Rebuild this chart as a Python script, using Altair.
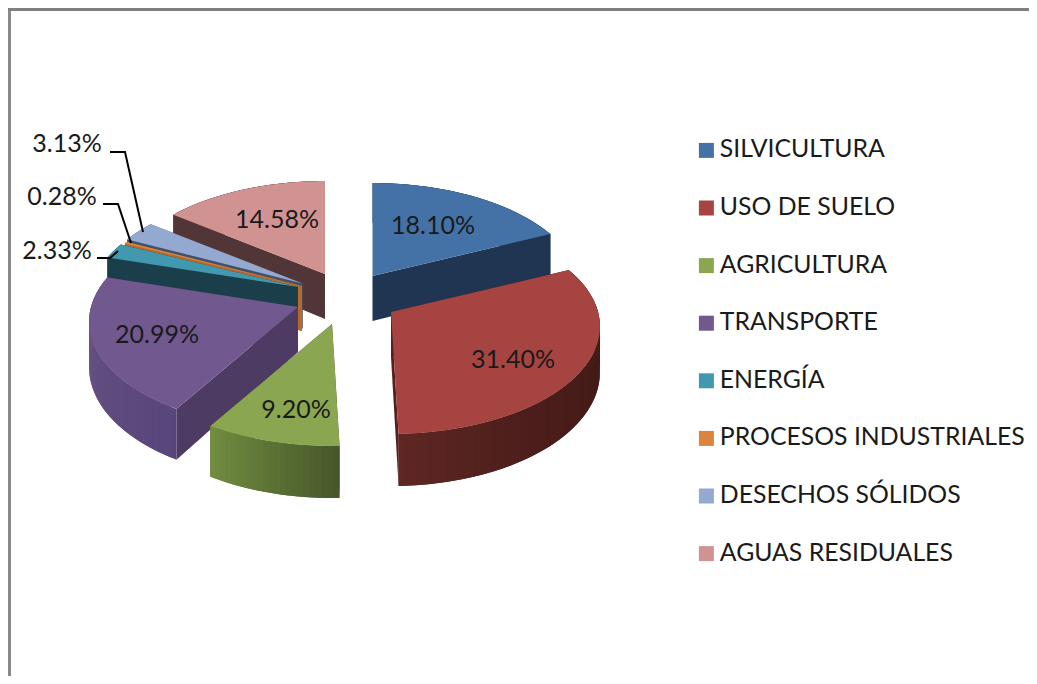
import math
import altair as alt

categories = ["SILVICULTURA", "USO DE SUELO", "AGRICULTURA", "TRANSPORTE", "ENERGÍA",
              "PROCESOS INDUSTRIALES", "DESECHOS SÓLIDOS", "AGUAS RESIDUALES"]
values = [18.10, 31.40, 9.20, 20.99, 2.33, 0.28, 3.13, 14.58]
labels = ["18.10%", "31.40%", "9.20%", "20.99%", "2.33%", "0.28%", "3.13%", "14.58%"]
top_colors = ["#4472A6", "#A64441", "#8BA650", "#71588F", "#4198AF", "#DB843D", "#93A9CF", "#D19392"]
cut_colors = ["#1F3551", "#5A1F1C", "#46562A", "#4E3B63", "#1A3F4A", "#B8692A", "#44506A", "#523637"]
arc_start_colors = ["#1F3551", "#431A17", "#46562A", "#58457A", "#1A3F4A", "#B8692A", "#44506A", "#523637"]
arc_end_colors = ["#1F3551", "#5F2724", "#728E40", "#6E5788", "#1A3F4A", "#B8692A", "#44506A", "#523637"]
arc_gamma = [1, 3, 1, 1, 1, 1, 1, 1]

# layout, in chart pixels (page minus the 8px margin)
W, H = 1021, 668
apex = [(364.5, 268), (383, 304), (324, 316), (290, 299), (290, 279), (294, 278), (294.5, 275.5), (317, 266)]
label_xy = [(425, 218), (505, 352), (288, 402), (149, 327), (49, 243), (54, 189), (59, 136), (269, 212)]
paint_order = [7, 6, 5, 4, 3, 2, 0, 1]
RX, RY, K, DEPTH = 207.0, 105.5, 0.135, 45.0


def rim(i, theta):
    u, v = math.sin(theta), -math.cos(theta)
    s = 1 / (1 - K * v)
    return apex[i][0] + RX * u * s, apex[i][1] + RY * v * s, DEPTH * s


def mix(a, b, t):
    pa = [int(a[j:j + 2], 16) for j in (1, 3, 5)]
    pb = [int(b[j:j + 2], 16) for j in (1, 3, 5)]
    return "#" + "".join(f"{round(x + (y - x) * t):02x}" for x, y in zip(pa, pb))


def poly(points, **props):
    ring = [list(p) for p in points] + [list(points[0])]
    return {"type": "Feature", "properties": props, "geometry": {"type": "Polygon", "coordinates": [ring]}}


total = sum(values)
edges = [0.0]
for val in values:
    edges.append(edges[-1] + val / total * 2 * math.pi)

layers = []
color_scale = alt.Scale(domain=categories, range=top_colors)
legend = alt.Legend(
    title=None, orient="none", legendX=686, legendY=130, symbolType="square", symbolSize=225,
    symbolStrokeWidth=0, labelFontSize=24.8, labelFont="Lato", labelColor="#1a1a1a", rowPadding=31.6,
    labelOffset=1, padding=0, labelLimit=400, values=categories,
)

for i in paint_order:
    a, b = edges[i], edges[i + 1]
    n = max(3, int((b - a) * 40))
    steps = [a + (b - a) * k / n for k in range(n + 1)]
    pts = [rim(i, t) for t in steps]
    ax, ay = apex[i]
    d0 = DEPTH
    walls = []
    for e in (pts[0], pts[-1]):
        walls.append(poly([(ax, ay), e[:2], (e[0], e[1] + e[2]), (ax, ay + d0)], fill=cut_colors[i]))
    for k in range(n):
        # each strip overlaps the next one, so no seam shows between them
        p, q = pts[k], pts[min(k + 2, n)]
        walls.append(poly([p[:2], q[:2], (q[0], q[1] + q[2]), (p[0], p[1] + p[2])],
                          fill=mix(arc_start_colors[i], arc_end_colors[i], ((k + .5) / n) ** arc_gamma[i])))
    layers.append(
        alt.Chart(alt.Data(values=walls)).mark_geoshape().encode(
            fill=alt.Fill("properties.fill:N", scale=None),
        ).project(type="identity", scale=1, translate=[0, 0])
    )
    top = poly([(ax, ay)] + [p[:2] for p in pts], cat=categories[i])
    layers.append(
        alt.Chart(alt.Data(values=[top])).mark_geoshape().encode(
            color=alt.Color("properties.cat:N", scale=color_scale, legend=legend),
        ).project(type="identity", scale=1, translate=[0, 0])
    )

xs = alt.Scale(domain=[0, W], range=[0, W])
ys = alt.Scale(domain=[0, H], range=[0, H])

label_rows = [{"t": t, "x": p[0], "y": p[1]} for t, p in zip(labels, label_xy)]
text = alt.Chart(alt.Data(values=label_rows)).mark_text(
    font="Lato", fontSize=25, color="#1a1a1a", align="center", baseline="middle"
).encode(
    x=alt.X("x:Q", scale=xs, axis=None),
    y=alt.Y("y:Q", scale=ys, axis=None),
    text="t:N",
)

leader_rows = []
for name, path in {
    "a": [(102, 144), (117, 144), (135, 224)],
    "b": [(95, 196), (110, 196), (123, 235)],
    "c": [(89, 250), (102, 250), (110, 243)],
}.items():
    for o, (x, y) in enumerate(path):
        leader_rows.append({"n": name, "o": o, "x": x, "y": y})
leaders = alt.Chart(alt.Data(values=leader_rows)).mark_line(color="#000000", strokeWidth=2).encode(
    x=alt.X("x:Q", scale=xs, axis=None),
    y=alt.Y("y:Q", scale=ys, axis=None),
    detail="n:N",
    order="o:Q",
)

border_left = alt.Chart(alt.Data(values=[{"a": 1}])).mark_rule(color="#8a8a8a", size=3).encode(
    x=alt.value(1.5), y=alt.value(0), y2=alt.value(H))
border_top = alt.Chart(alt.Data(values=[{"a": 1}])).mark_rule(color="#808080", size=3).encode(
    y=alt.value(1.5), x=alt.value(0), x2=alt.value(W))

chart = alt.layer(border_left, border_top, *layers, leaders, text).properties(
    width=W, height=H, padding=0, autosize=alt.AutoSizeParams(type="none"),
    background="#ffffff",
).configure_view(stroke=None)

chart.save("out.html", embed_options={"renderer": "svg", "actions": False})
